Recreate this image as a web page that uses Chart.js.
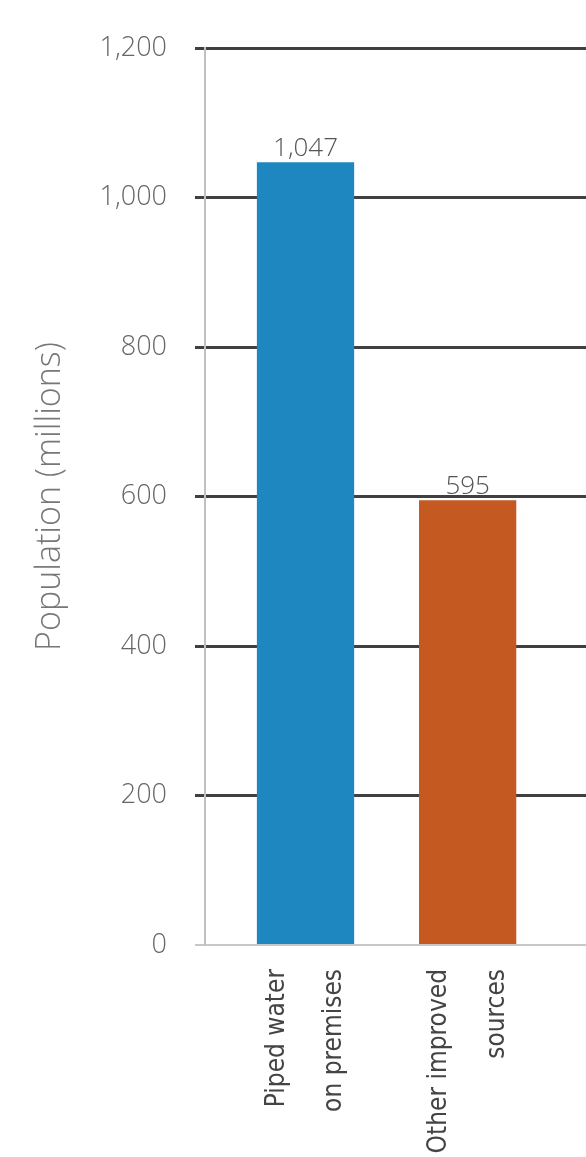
<!DOCTYPE html>
<html>
<head>
<meta charset="utf-8">
<script src="https://cdn.jsdelivr.net/npm/chart.js@4.4.1/dist/chart.umd.min.js"></script>
<style>
  html, body { margin: 0; padding: 0; background: #fff; overflow: hidden; }
  #wrap { width: 586px; height: 1157px; }
</style>
</head>
<body>
<div id="wrap"><canvas id="chart"></canvas></div>
<script>
// water source categories and population served (millions)
const categories = [['Piped water', 'on premises'], ['Other improved', 'sources']];
const populations = [1047, 595];
const barColors = ['#1f87bf', '#c45a22'];
const yTicks = [0, 200, 400, 600, 800, 1000, 1200];
const yTitle = 'Population (millions)';

const fmt = v => v.toLocaleString('en-US');

// number printed above each bar
const valueLabels = {
  id: 'valueLabels',
  afterDatasetsDraw(chart) {
    const ctx = chart.ctx;
    const meta = chart.getDatasetMeta(0);
    ctx.save();
    ctx.font = '300 26px "Open Sans"';
    ctx.fillStyle = '#555';
    ctx.textAlign = 'center';
    ctx.textBaseline = 'bottom';
    meta.data.forEach((bar, i) => ctx.fillText(fmt(populations[i]), bar.x, bar.y - 1));
    ctx.restore();
  }
};

new Chart(document.getElementById('chart'), {
  type: 'bar',
  data: {
    datasets: [{
      data: populations.map((v, i) => ({ x: i, y: v })),
      backgroundColor: barColors,
      categoryPercentage: 1,
      barPercentage: 0.6
    }]
  },
  plugins: [valueLabels],
  options: {
    responsive: true,
    maintainAspectRatio: false,
    animation: false,
    layout: { padding: { top: 48, right: 0, left: 0, bottom: 0 } },
    plugins: { legend: { display: false }, tooltip: { enabled: false } },
    scales: {
      x: {
        type: 'linear',
        offset: false,
        min: -0.62,
        max: 1.73,
        afterBuildTicks: s => { s.ticks = categories.map((_, i) => ({ value: i })); },
        afterFit: s => {
          s.height = 212;
          // plot runs to the right edge; labels never reach it
          s.paddingLeft = 0;
          s.paddingRight = 0;
        },
        grid: { display: false, offset: false },
        border: { color: '#c8c8c8', width: 2 },
        ticks: {
          callback: v => categories[v],
          minRotation: 90,
          maxRotation: 90,
          autoSkip: false,
          padding: 16,
          labelOffset: -28,
          color: '#444',
          font: { family: '"Liberation Sans Narrow", "DejaVu Sans Condensed", "Roboto Condensed", "Open Sans", sans-serif', size: 26, lineHeight: 2.2 }
        }
      },
      y: {
        min: 0,
        max: 1200,
        afterBuildTicks: s => { s.ticks = yTicks.map(v => ({ value: v })); },
        afterFit: s => { s.width = 205; },
        border: { color: '#c0c0c0', width: 2 },
        grid: {
          color: c => c.tick && c.tick.value === 0 ? '#c8c8c8' : '#404040',
          lineWidth: c => c.tick && c.tick.value === 0 ? 2 : 3,
          tickLength: 10
        },
        ticks: {
          callback: v => fmt(v),
          padding: 28,
          color: '#666',
          font: { family: '"Open Sans"', size: 27, weight: 300 }
        },
        title: {
          display: true,
          text: yTitle,
          color: '#777',
          padding: { top: 30, bottom: 0 },
          font: { family: '"Open Sans"', size: 34, weight: 300 }
        }
      }
    }
  }
});
</script>
</body>
</html>
